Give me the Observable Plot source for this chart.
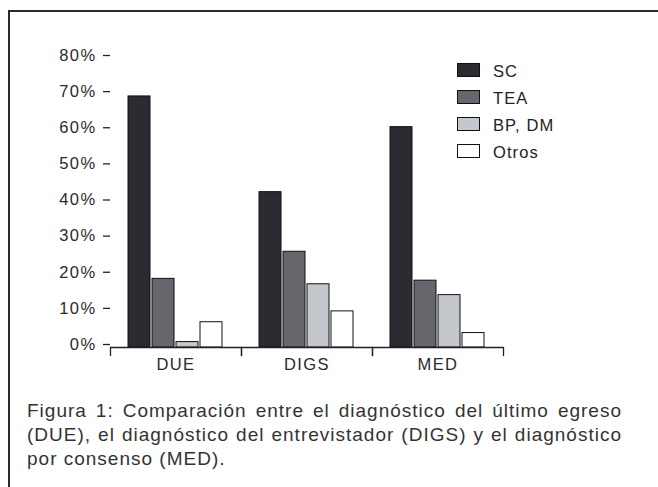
<!DOCTYPE html>
<html>
<head>
<meta charset="utf-8">
<script src="https://cdn.jsdelivr.net/npm/d3@7"></script>
<script src="https://cdn.jsdelivr.net/npm/@observablehq/plot@0.6"></script>
<style>
  html, body { margin: 0; padding: 0; background: #fff; }
  #wrap { position: relative; width: 658px; height: 487px; overflow: hidden; background: #fff; font-family: "Liberation Sans", Arial, sans-serif; }
  #border { position: absolute; left: 8px; top: 10px; width: 700px; height: 600px; border-top: 2px solid #2a2a2a; border-left: 2px solid #2a2a2a; }
  #chart { position: absolute; left: 0; top: 0; }
  #chart svg text { letter-spacing: 1.4px; }
  #legend { position: absolute; left: 457px; top: 63px; }
  .row { height: 27px; display: flex; align-items: flex-start; }
  .sw { width: 23px; height: 14px; box-sizing: border-box; border: 1px solid #111; }
  .lab { margin-left: 13px; font-size: 16.5px; letter-spacing: 1.1px; color: #222; line-height: 14px; margin-top: 1px; }
  #caption { position: absolute; left: 27px; top: 399px; width: 595px; font-size: 19px; letter-spacing: 1.0px; color: #333; line-height: 24px; }
  #caption .just { text-align: justify; text-align-last: justify; white-space: nowrap; }
  #caption .last { text-align: left; white-space: nowrap; }
</style>
</head>
<body>
<div id="wrap">
  <div id="border"></div>
  <div id="chart"></div>
  <div id="legend"></div>
  <div id="caption"></div>
</div>
<script>
const groups = ["DUE", "DIGS", "MED"];
const series = ["SC", "TEA", "BP, DM", "Otros"];
const valuesSC = [69.5, 43, 61];
const valuesTEA = [19, 26.5, 18.5];
const valuesBP = [1.5, 17.5, 14.5];
const valuesOtros = [7, 10, 4];
const yTicks = [0, 10, 20, 30, 40, 50, 60, 70, 80];
const colors = ["#2b2b31", "#66666c", "#c4c7cb", "#ffffff"];
const captionLines = [
  "Figura 1: Comparación entre el diagnóstico del último egreso",
  "(DUE), el diagnóstico del entrevistador (DIGS)  y el diagnóstico",
  "por consenso (MED)."
];

const seriesValues = [valuesSC, valuesTEA, valuesBP, valuesOtros];
const data = [];
groups.forEach((g, gi) => series.forEach((s, si) => data.push({group: g, series: s, value: seriesValues[si][gi]})));

const chart = Plot.plot({
  width: 658,
  height: 385,
  marginTop: 58,
  marginBottom: 30,
  marginLeft: 110,
  marginRight: 155,
  style: {fontFamily: "'Liberation Sans', Arial, sans-serif", fontSize: "16.5px", color: "#2a2a2a", background: "transparent"},
  fx: {domain: groups, padding: 0, label: null},
  x: {domain: series, paddingInner: 0.07, paddingOuter: 0.75, axis: null},
  y: {domain: [0, 80], range: [347, 58]},
  color: {domain: series, range: colors},
  marks: [
    Plot.barY(data, {fx: "group", x: "series", y: "value", fill: "series", stroke: "#111", strokeWidth: 1}),
    Plot.ruleY([0], {stroke: "#222", strokeWidth: 1.3}),
    Plot.frame({anchor: "left", insetTop: 289, stroke: "#222", strokeWidth: 1.3}),
    Plot.frame({anchor: "right", insetTop: 289, stroke: "#222", strokeWidth: 1.3}),
    Plot.axisY({ticks: yTicks, tickFormat: d => d + "%", tickSize: 7, tickPadding: 7, dy: -3, label: null, line: true, stroke: "#222", strokeWidth: 1.3}),
    Plot.axisFx({anchor: "bottom", tickSize: 0, tickPadding: 3, label: null, fontSize: 16.5})
  ]
});
document.getElementById("chart").appendChild(chart);

const legend = document.getElementById("legend");
series.forEach((s, i) => {
  const row = document.createElement("div");
  row.className = "row";
  const sw = document.createElement("div");
  sw.className = "sw";
  sw.style.background = colors[i];
  const lab = document.createElement("div");
  lab.className = "lab";
  lab.textContent = s;
  row.appendChild(sw);
  row.appendChild(lab);
  legend.appendChild(row);
});

const cap = document.getElementById("caption");
captionLines.forEach((t, i) => {
  const d = document.createElement("div");
  d.textContent = t;
  d.className = i < captionLines.length - 1 ? "just" : "last";
  cap.appendChild(d);
});
</script>
</body>
</html>
